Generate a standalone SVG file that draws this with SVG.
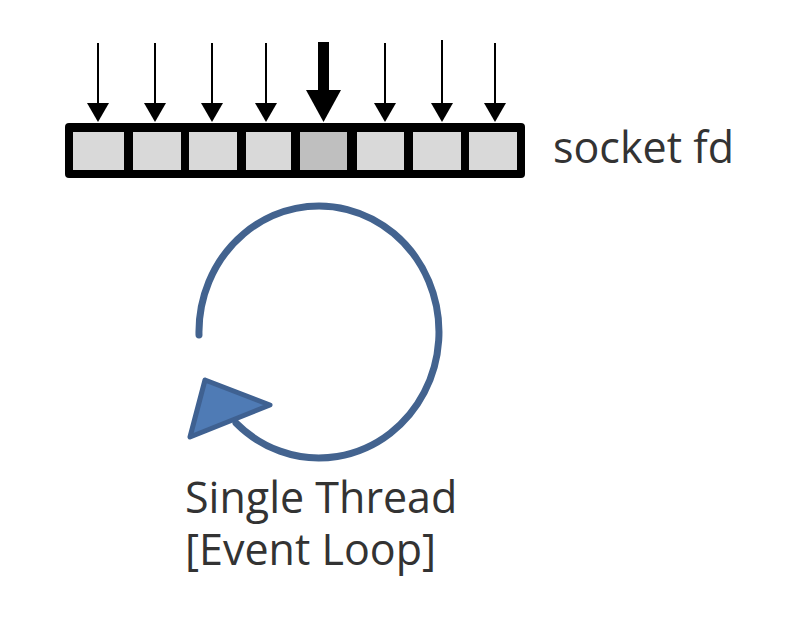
<svg xmlns="http://www.w3.org/2000/svg" width="800" height="624" viewBox="0 0 800 624">
<style>
.lbl{font-family:"Open Sans","Noto Sans",sans-serif;font-size:43px;fill:#333}
.cell{fill:#d9d9d9}
.sel{fill:#bfbfbf}
.shaft{stroke:#000;stroke-width:2}
.head{fill:#000}
</style>
<rect width="800" height="624" fill="#fff"/>
<g id="socket-array">
<rect x="65" y="123" width="460" height="55" rx="4" fill="#000"/>
<rect class="cell" x="73" y="132" width="51" height="38"/>
<rect class="cell" x="133" y="132" width="48" height="38"/>
<rect class="cell" x="189" y="132" width="48" height="38"/>
<rect class="cell" x="246" y="132" width="45" height="38"/>
<rect class="sel" x="300" y="132" width="47" height="38"/>
<rect class="cell" x="357" y="132" width="47" height="38"/>
<rect class="cell" x="413" y="132" width="48" height="38"/>
<rect class="cell" x="469" y="132" width="48" height="38"/>
</g>
<g id="connectors">
<line class="shaft" x1="98" y1="43" x2="98" y2="106"/><polygon class="head" points="87,103 109,103 98,122"/>
<line class="shaft" x1="155" y1="43" x2="155" y2="106"/><polygon class="head" points="144,103 166,103 155,122"/>
<line class="shaft" x1="212" y1="43" x2="212" y2="106"/><polygon class="head" points="201,103 223,103 212,122"/>
<line class="shaft" x1="266" y1="43" x2="266" y2="106"/><polygon class="head" points="255,103 277,103 266,122"/>
<rect x="318" y="42" width="11" height="50" fill="#000"/><polygon class="head" points="306,90 341,90 323.5,122"/>
<line class="shaft" x1="385" y1="43" x2="385" y2="106"/><polygon class="head" points="374,103 396,103 385,122"/>
<line class="shaft" x1="442" y1="40" x2="442" y2="106"/><polygon class="head" points="431,103 453,103 442,122"/>
<line class="shaft" x1="495" y1="43" x2="495" y2="106"/><polygon class="head" points="484,103 506,103 495,122"/>
</g>
<g id="socket-label"><text class="lbl" x="553" y="163">socket fd</text></g>
<g id="event-loop">
<path d="M199,335 A120,126 0 1 1 236,423" fill="none" stroke="#43638f" stroke-width="7" stroke-linecap="round"/>
<polygon points="205,380 270,405 190,437" fill="#4f7bb5" stroke="#3f6191" stroke-width="5" stroke-linejoin="round"/>
</g>
<g id="thread-label">
<text class="lbl" x="185" y="513">Single Thread</text>
<text class="lbl" x="185" y="565">[Event Loop]</text>
</g>
</svg>
